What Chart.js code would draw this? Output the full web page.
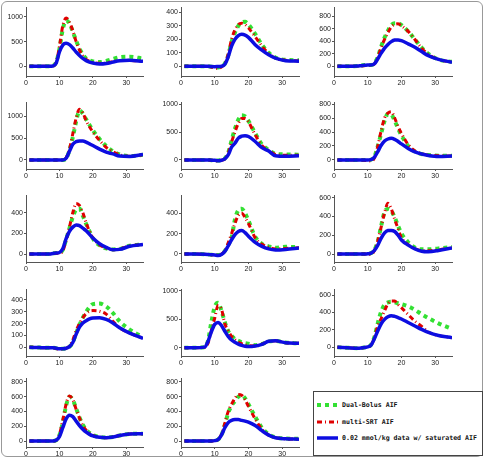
<!DOCTYPE html>
<html>
<head>
<meta charset="utf-8">
<script src="https://cdn.jsdelivr.net/npm/chart.js@4/dist/chart.umd.min.js"></script>
<style>
  body { margin: 0; width: 484px; height: 458px; position: relative; background: #fff; overflow: hidden; }
  canvas.panel { position: absolute; }
  #frame { position: absolute; left: 1px; top: 1px; width: 480px; height: 454px; border: 1px solid #999; border-radius: 6px; }
  #legend { position: absolute; left: 313px; top: 391px; width: 168px; height: 63px; border: 1px solid #444; background: #fff;
            font: bold 6.6px "DejaVu Sans Mono", monospace; color: #111; }
  #legend .row { position: absolute; left: 2px; height: 10px; white-space: nowrap; }
  #legend canvas { position: absolute; left: 0; top: 0; }
  #legend span { position: absolute; left: 26px; top: 1px; line-height: 8px; }
</style>
</head>
<body>
<div id="frame"></div>

<script>
// time axis (s) shared by all panels
var times = [1, 4, 7, 8, 9, 10, 11, 12, 13, 14, 15, 16, 17, 18, 19, 20, 22, 24, 26, 28, 31, 35];
var xTicks = [0, 10, 20, 30];

// sat = 0.02 mmol/kg data w/ saturated AIF, srt = multi-SRT AIF, dual = Dual-Bolus AIF
var sat1  = [0,0,0,5,60,290,430,465,440,370,290,220,160,115,85,65,45,55,85,110,120,100];
var srt1  = [0,0,0,5,70,400,820,980,900,720,500,330,210,140,100,80,60,65,95,115,120,100];
var dual1 = [0,0,0,10,80,350,750,930,870,700,520,360,240,160,120,100,85,110,150,185,195,155];

var sat2  = [0,0,0,0,-2,-3,-2,0,15,70,150,200,228,237,232,215,160,120,85,60,42,38];
var srt2  = [0,0,0,0,-5,-12,-15,-5,20,90,200,270,310,320,310,285,220,150,95,60,45,40];
var dual2 = [0,0,0,0,-3,-5,-8,0,20,80,180,250,300,325,330,310,240,160,100,65,48,45];

var sat3  = [0,0,5,10,15,20,20,40,120,210,290,350,395,420,423,410,360,305,235,170,110,65];
var srt3  = [0,0,0,5,10,15,15,40,140,300,430,540,630,670,680,650,560,430,290,190,110,65];
var dual3 = [0,0,5,10,20,25,20,50,150,320,460,570,660,690,690,660,560,430,300,200,110,70];

var sat4  = [0,0,0,0,0,0,0,40,200,360,420,435,435,410,370,330,250,180,140,90,80,125];
var srt4  = [0,0,0,0,0,0,0,50,250,600,960,1160,1080,900,760,640,450,290,190,120,85,120];
var dual4 = [0,0,0,0,0,0,0,30,220,520,880,1130,1060,930,800,680,480,320,200,130,90,120];

var sat5  = [0,0,0,0,-3,-5,-15,-5,20,90,230,300,390,425,434,420,330,220,160,75,65,75];
var srt5  = [0,0,0,0,-5,-10,-20,-5,20,120,320,500,650,740,740,680,450,260,170,100,85,85];
var dual5 = [0,0,0,0,-3,-5,-10,0,30,130,350,560,720,800,780,700,480,280,180,110,100,95];

var sat6  = [0,0,0,0,0,0,5,40,120,210,270,300,310,295,265,230,165,115,85,65,50,58];
var srt6  = [0,0,0,0,-5,-10,-15,30,200,420,600,670,690,600,480,380,220,130,90,70,60,58];
var dual6 = [0,0,0,0,0,0,5,50,200,380,560,660,650,560,450,350,200,120,85,70,62,62];

var sat7  = [0,0,0,5,10,15,50,150,220,260,280,275,250,225,190,155,100,65,42,45,75,92];
var srt7  = [0,0,0,5,8,10,30,130,260,400,490,470,400,300,220,155,90,55,42,48,78,92];
var dual7 = [0,0,0,5,10,15,40,140,250,360,430,440,370,290,220,150,85,55,45,50,80,92];

var sat8  = [0,0,-3,-5,-8,-10,-15,-5,25,80,140,190,222,230,210,175,115,75,50,40,45,60];
var srt8  = [0,0,-3,-5,-8,-10,-12,0,30,110,200,300,380,400,360,300,160,95,65,50,55,60];
var dual8 = [0,0,-3,-5,-8,-10,-10,0,30,90,160,340,430,445,400,330,170,100,75,60,70,68];

var sat9  = [0,0,0,0,0,2,10,40,95,170,225,250,252,240,200,150,95,55,30,25,38,65];
var srt9  = [0,0,0,0,0,0,-5,40,140,290,440,540,480,370,270,175,100,60,35,35,45,65];
var dual9 = [0,0,0,0,0,2,10,45,140,300,450,480,460,390,300,220,125,70,50,50,60,75];

var sat10  = [0,-3,-5,-5,-8,-12,-12,-8,5,40,110,170,205,225,240,248,250,235,205,165,120,75];
var srt10  = [0,-3,-5,-5,-10,-15,-15,-10,10,60,140,200,250,285,305,310,305,280,220,165,120,75];
var dual10 = [0,-3,-5,-5,-8,-12,-12,-8,5,40,120,190,250,300,340,365,370,345,290,220,150,85];

var sat11  = [0,0,10,110,280,410,445,390,290,200,135,95,64,42,27,20,30,60,112,120,88,76];
var srt11  = [0,0,5,80,300,520,740,680,420,300,200,140,100,70,50,35,30,60,110,120,88,76];
var dual11 = [0,0,10,120,450,720,790,650,450,290,210,150,120,95,80,70,45,65,110,120,90,76];

var sat12  = [0,-5,-10,-8,-3,5,25,100,190,270,320,350,363,355,340,325,285,245,205,170,135,110];
var srt12  = [0,-5,-10,-8,-3,5,25,110,250,330,420,500,530,530,490,455,375,300,240,175,135,111];
var dual12 = [0,-5,-10,-8,-3,5,30,120,280,410,490,515,523,515,505,495,470,430,380,335,275,210];

var sat13  = [0,0,0,0,10,60,180,300,350,330,270,210,160,120,90,70,50,45,55,75,95,100];
var srt13  = [0,0,0,0,10,90,280,500,610,560,430,310,210,145,105,78,52,45,55,75,95,100];
var dual13 = [0,0,0,0,10,80,250,480,600,560,440,320,220,150,110,80,55,48,55,75,95,100];

var sat14  = [0,0,0,0,0,5,20,80,180,250,280,290,290,280,270,255,210,140,80,45,30,25];
var srt14  = [0,0,0,0,0,5,20,90,240,400,500,580,630,620,560,470,300,160,80,45,30,25];
var dual14 = [0,0,0,0,0,5,20,80,220,380,480,540,600,620,580,500,330,180,90,50,35,30];

// y axis ranges and tick labels of each panel
var yMins = [-197, -72, -156, -206, -161, -129, -77, -79, -85, -74, -146, -100, -81, -81];
var yMaxs = [1202, 440, 950, 1327, 1036, 829, 571, 580, 629, 493, 1032, 669, 854, 854];
var yTicks = [
  [0, 500, 1000], [0, 100, 200, 300, 400], [0, 200, 400, 600, 800],
  [0, 500, 1000], [0, 500, 1000], [0, 200, 400, 600, 800],
  [0, 200, 400], [0, 200, 400], [0, 200, 400, 600],
  [0, 100, 200, 300, 400], [0, 500, 1000], [0, 200, 400, 600],
  [0, 200, 400, 600, 800], [0, 200, 400, 600, 800]
];

var legendLabels = ['Dual-Bolus AIF', 'multi-SRT AIF', '0.02 mmol/kg data w/ saturated AIF'];

var satAll = [sat1, sat2, sat3, sat4, sat5, sat6, sat7, sat8, sat9, sat10, sat11, sat12, sat13, sat14];
var srtAll = [srt1, srt2, srt3, srt4, srt5, srt6, srt7, srt8, srt9, srt10, srt11, srt12, srt13, srt14];
var dualAll = [dual1, dual2, dual3, dual4, dual5, dual6, dual7, dual8, dual9, dual10, dual11, dual12, dual13, dual14];

var BLUE = '#0d0de0', RED = '#e00000', GREEN = '#33e033';
var colLeft = [26, 181, 334], colWidth = [117, 118, 118];
var rowTop = [7, 102, 195, 289, 378], rowBottom = [76, 169, 262, 356, 447];
var Y_W = 30, X_H = 14, PAD_T = 8, PAD_R = 4;

function toXY(vals) {
  return vals.map(function (v, k) { return {x: times[k], y: v}; });
}

function axisStyle(extra) {
  var o = {
    border: {display: true, color: '#555', width: 1},
    grid: {display: true, drawOnChartArea: false, drawTicks: true, tickLength: 2, color: '#555'},
    ticks: {
      color: '#222', padding: 1, font: {family: 'Liberation Sans', size: 7},
      callback: function (v) { return String(v); }
    }
  };
  return Object.assign(o, extra);
}

for (var i = 0; i < 14; i++) {
  var r = Math.floor(i / 3), c = i % 3;
  var cv = document.createElement('canvas');
  cv.className = 'panel';
  cv.width = colWidth[c] + Y_W + PAD_R;
  cv.height = rowBottom[r] - rowTop[r] + PAD_T + X_H;
  cv.style.left = (colLeft[c] - Y_W) + 'px';
  cv.style.top = (rowTop[r] - PAD_T) + 'px';
  document.body.insertBefore(cv, document.getElementById('frame'));

  (function (idx) {
    new Chart(cv, {
      type: 'line',
      data: {
        datasets: [
          {label: legendLabels[2], data: toXY(satAll[idx]), borderColor: BLUE, borderWidth: 3.5},
          {label: legendLabels[1], data: toXY(srtAll[idx]), borderColor: RED, borderWidth: 3, borderDash: [5, 3, 1, 3]},
          {label: legendLabels[0], data: toXY(dualAll[idx]), borderColor: GREEN, borderWidth: 4, borderDash: [4, 4]}
        ]
      },
      options: {
        responsive: false,
        animation: false,
        events: [],
        layout: {padding: {top: PAD_T, right: PAD_R, left: 0, bottom: 0}},
        elements: {point: {radius: 0}, line: {cubicInterpolationMode: 'monotone', fill: false}},
        plugins: {legend: {display: false}, tooltip: {enabled: false}},
        scales: {
          x: axisStyle({
            type: 'linear', min: 0, max: 35,
            afterBuildTicks: function (s) { s.ticks = xTicks.map(function (v) { return {value: v}; }); },
            afterFit: function (s) { s.height = X_H; }
          }),
          y: axisStyle({
            type: 'linear', min: yMins[idx], max: yMaxs[idx],
            afterBuildTicks: function (s) { s.ticks = yTicks[idx].map(function (v) { return {value: v}; }); },
            afterFit: function (s) { s.width = Y_W; }
          })
        }
      }
    });
  })(i);
}

// legend box
var legend = document.createElement('div');
legend.id = 'legend';
document.body.appendChild(legend);
var styles = [
  {color: GREEN, width: 4, dash: [4, 4]},
  {color: RED, width: 3, dash: [5, 3, 1, 3]},
  {color: BLUE, width: 3.5, dash: []}
];
var rowY = [8, 25, 41];
legendLabels.forEach(function (txt, k) {
  var row = document.createElement('div');
  row.className = 'row';
  row.style.top = rowY[k] + 'px';
  var sc = document.createElement('canvas');
  sc.width = 22; sc.height = 10;
  var ctx = sc.getContext('2d');
  ctx.strokeStyle = styles[k].color;
  ctx.lineWidth = styles[k].width;
  ctx.setLineDash(styles[k].dash);
  ctx.beginPath(); ctx.moveTo(1, 5); ctx.lineTo(22, 5); ctx.stroke();
  var sp = document.createElement('span');
  sp.textContent = txt;
  row.appendChild(sc); row.appendChild(sp);
  legend.appendChild(row);
});
</script>
</body>
</html>
